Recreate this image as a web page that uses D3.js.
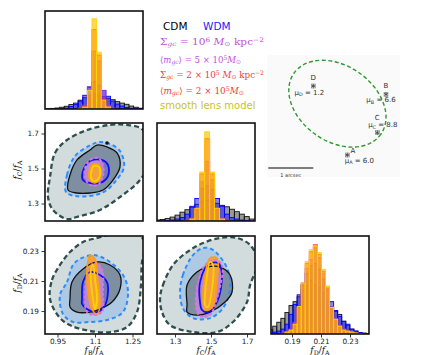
<!DOCTYPE html>
<html><head><meta charset="utf-8">
<script src="https://cdn.jsdelivr.net/npm/d3@7"></script>
<style>body{margin:0;background:#fff}svg{display:block}</style>
</head><body>
<svg id="c" width="429" height="355"></svg>
<script>
// ---------------- DATA ----------------
// tick values / labels
const ticksB = [0.95, 1.1, 1.25], tickLabB = ["0.95", "1.1", "1.25"];
const ticksC = [1.3, 1.5, 1.7], tickLabC = ["1.3", "1.5", "1.7"];
const ticksD = [0.19, 0.21, 0.23], tickLabD = ["0.19", "0.21", "0.23"];

// histogram bins
const binStartB = 0.903, binWidthB = 0.0185;   // f_B/f_A
const binStartC = 1.19, binWidthC = 0.0275;    // f_C/f_A
const binStartD = 0.1739, binWidthD = 0.0028;  // f_D/f_A

// f_B/f_A histograms (relative height)
const cdmB = [0.003,0.006,0.01,0.018,0.028,0.045,0.06,0.09,0.115,0.14,0.155,0.14,0.125,0.11,0.095,0.075,0.06,0.048,0.03,0.018,0.008];
const wdmB = [0,0,0,0.004,0.01,0.025,0.045,0.08,0.14,0.22,0.28,0.24,0.19,0.13,0.08,0.05,0.03,0.015,0.008,0.004,0];
const vioB = [0,0,0,0,0,0,0,0.01,0.04,0.23,0.59,0.49,0.19,0.04,0.01,0,0,0,0,0,0];
const redB = [0,0,0,0,0,0,0,0.005,0.03,0.14,0.81,0.55,0.10,0.02,0,0,0,0,0,0,0];
const smoothB = [0,0,0,0,0,0,0,0.005,0.02,0.19,0.92,0.58,0.09,0.02,0,0,0,0,0,0,0];

// f_C/f_A histograms
const cdmC = [0.01,0.015,0.025,0.04,0.06,0.09,0.115,0.14,0.17,0.20,0.21,0.20,0.18,0.16,0.145,0.12,0.095,0.07,0.045,0.02];
const wdmC = [0,0,0.005,0.01,0.02,0.035,0.07,0.15,0.23,0.33,0.36,0.32,0.23,0.15,0.07,0.035,0.02,0.01,0.005,0];
const vioC = [0,0,0,0,0,0,0.01,0.03,0.10,0.40,0.61,0.42,0.10,0.03,0.01,0,0,0,0,0];
const redC = [0,0,0,0,0,0,0.005,0.02,0.12,0.48,0.84,0.48,0.12,0.02,0.005,0,0,0,0,0];
const smoothC = [0,0,0,0,0,0,0,0.02,0.13,0.50,0.91,0.50,0.13,0.02,0,0,0,0,0,0];

// f_D/f_A histograms
const cdmD = [0.045,0.08,0.12,0.16,0.22,0.29,0.33,0.38,0.45,0.50,0.55,0.50,0.47,0.42,0.33,0.27,0.23,0.20,0.13,0.09,0.05,0.03,0.015,0.01,0.005];
const wdmD = [0.01,0.02,0.03,0.05,0.10,0.20,0.30,0.40,0.50,0.62,0.70,0.72,0.66,0.56,0.45,0.33,0.24,0.18,0.13,0.10,0.05,0.03,0.015,0.005,0];
const vioD = [0,0,0,0.01,0.02,0.05,0.12,0.27,0.52,0.67,0.76,0.88,0.78,0.62,0.46,0.28,0.16,0.09,0.05,0.03,0.02,0.01,0.005,0,0];
const redD = [0,0,0,0,0.02,0.04,0.10,0.26,0.50,0.72,0.84,0.91,0.81,0.64,0.47,0.26,0.14,0.08,0.04,0.03,0.02,0.01,0.005,0,0];
const smoothD = [0,0,0,0,0.02,0.04,0.10,0.28,0.52,0.74,0.86,0.90,0.83,0.66,0.49,0.27,0.15,0.08,0.04,0.03,0.02,0.01,0.005,0,0];

// contours, f_C/f_A vs f_B/f_A
const cbCdm95 = [[0.92,1.451],[0.94,1.589],[0.988,1.663],[1.068,1.72],[1.16,1.749],[1.228,1.749],[1.292,1.72],[1.32,1.549],[1.28,1.434],[1.2,1.337],[1.12,1.263],[1.028,1.223],[0.988,1.211],[0.932,1.263],[0.912,1.337]];
const cbWdm95 = [[0.984,1.366],[0.988,1.463],[1.02,1.571],[1.076,1.629],[1.116,1.651],[1.16,1.64],[1.2,1.6],[1.216,1.509],[1.18,1.423],[1.136,1.366],[1.08,1.343],[1.02,1.343]];
const cbCdm68 = [[0.992,1.377],[1.0,1.463],[1.028,1.549],[1.08,1.606],[1.108,1.634],[1.148,1.623],[1.188,1.589],[1.2,1.509],[1.172,1.434],[1.132,1.377],[1.08,1.36],[1.028,1.36]];
const cbWdm68 = [[1.052,1.486],[1.08,1.543],[1.128,1.549],[1.152,1.52],[1.152,1.457],[1.12,1.417],[1.08,1.417],[1.052,1.434]];
const cbVio95 = [[1.06,1.503],[1.08,1.549],[1.112,1.56],[1.132,1.52],[1.132,1.457],[1.112,1.406],[1.08,1.406],[1.06,1.446]];
const cbSm95 = [[1.076,1.48],[1.088,1.52],[1.108,1.526],[1.124,1.491],[1.12,1.446],[1.1,1.417],[1.08,1.434]];
const cbSm68 = [[1.084,1.469],[1.096,1.514],[1.116,1.509],[1.12,1.463],[1.104,1.429],[1.088,1.434]];
const cbOutliers = [[1.148,1.646]];

// contours, f_D/f_A vs f_B/f_A
const dbCdm95 = [[0.92,0.198],[0.928,0.2107],[0.96,0.2207],[1.0,0.2293],[1.052,0.236],[1.108,0.2387],[1.16,0.241],[1.26,0.2427],[1.304,0.234],[1.288,0.2227],[1.284,0.2073],[1.268,0.1893],[1.228,0.1793],[1.16,0.176],[1.08,0.1767],[1.008,0.18],[0.96,0.1853]];
const dbWdm95 = [[0.96,0.2007],[0.988,0.2093],[1.012,0.2207],[1.04,0.2247],[1.092,0.2273],[1.148,0.224],[1.212,0.214],[1.232,0.2027],[1.212,0.1893],[1.148,0.184],[1.08,0.1827],[1.012,0.1827],[0.972,0.188]];
const dbCdm68 = [[1.0,0.198],[1.008,0.2093],[1.052,0.218],[1.108,0.2227],[1.16,0.2207],[1.2,0.214],[1.2,0.2047],[1.168,0.196],[1.12,0.1913],[1.08,0.1893],[1.028,0.1893],[1.0,0.1927]];
const dbWdm68 = [[1.048,0.198],[1.052,0.2093],[1.08,0.216],[1.12,0.214],[1.148,0.2093],[1.152,0.2027],[1.14,0.194],[1.108,0.1893],[1.068,0.1913],[1.048,0.1947]];
const dbVio95 = [[1.06,0.194],[1.068,0.214],[1.1,0.2227],[1.128,0.218],[1.132,0.2027],[1.128,0.1893],[1.092,0.1873],[1.068,0.1893]];
const dbSm95 = [[1.08,0.2273],[1.1,0.2247],[1.112,0.2093],[1.12,0.194],[1.108,0.188],[1.088,0.1913],[1.072,0.2027],[1.068,0.218]];
const dbSm68 = [[1.092,0.2207],[1.1,0.2113],[1.108,0.198],[1.1,0.1913],[1.092,0.198],[1.084,0.2093],[1.084,0.218]];

// contours, f_D/f_A vs f_C/f_A
const dcCdm95 = [[1.217,0.1987],[1.233,0.2073],[1.289,0.2207],[1.367,0.2293],[1.456,0.2353],[1.55,0.2387],[1.644,0.2387],[1.717,0.234],[1.761,0.2227],[1.717,0.2073],[1.7,0.196],[1.622,0.1827],[1.533,0.176],[1.4,0.176],[1.272,0.1807],[1.228,0.1893]];
const dcWdm95 = [[1.328,0.2027],[1.344,0.214],[1.4,0.2273],[1.456,0.232],[1.511,0.2307],[1.589,0.2187],[1.606,0.2053],[1.567,0.192],[1.494,0.1853],[1.4,0.1853],[1.344,0.192]];
const dcCdm68 = [[1.367,0.194],[1.367,0.2073],[1.422,0.216],[1.478,0.2193],[1.55,0.2193],[1.606,0.214],[1.617,0.2027],[1.578,0.196],[1.494,0.1893],[1.422,0.1873],[1.367,0.1893]];
const dcWdm68 = [[1.439,0.196],[1.439,0.2093],[1.483,0.2207],[1.539,0.222],[1.561,0.214],[1.533,0.196],[1.483,0.1893],[1.45,0.1907]];
const dcVio95 = [[1.422,0.1893],[1.422,0.2053],[1.467,0.2207],[1.522,0.224],[1.561,0.2207],[1.539,0.2007],[1.494,0.1873],[1.45,0.186]];
const dcSm95 = [[1.456,0.196],[1.467,0.214],[1.494,0.2253],[1.533,0.2253],[1.533,0.2093],[1.506,0.192],[1.467,0.1907]];
const dcSm68 = [[1.467,0.2007],[1.478,0.214],[1.494,0.2227],[1.511,0.2207],[1.506,0.2053],[1.483,0.1927],[1.467,0.194]];

// lens image inset (arcsec, relative to lens centre)
const lensNames = ["A", "B", "C", "D"];
const lensX = [0.22, 1.08, 0.887, -0.536];
const lensY = [-1.14, 0.209, -0.644, 0.393];
const lensMu = ["6.0", "6.6", "8.8", "1.2"];
const critA = 1.18, critB = 0.84, critAngle = -35;
const scaleBarArcsec = 1;

// ---------------- DRAW ----------------
const svg = d3.select('#c');
const S = 98;
const defs = svg.append('defs');

const xB = d3.scaleLinear().domain([0.9, 1.292]).range([45, 143]);
const xC = d3.scaleLinear().domain([1.2, 1.7444]).range([157, 255]);
const xD = d3.scaleLinear().domain([0.1755, 0.2431]).range([271, 369]);
const yC = d3.scaleLinear().domain([1.2, 1.76]).range([221, 123]);
const yD = d3.scaleLinear().domain([0.1747, 0.24]).range([334, 236]);

function clip(id, x, y) {
  defs.append('clipPath').attr('id', id).append('rect').attr('x', x).attr('y', y).attr('width', S).attr('height', S);
  return svg.append('g').attr('clip-path', `url(#${id})`);
}

const histStyles = [
  {fill:'#6e6e6e', op:0.7, stroke:'#111'},
  {fill:'#1f1fff', op:0.55, stroke:'#0000ff'},
  {fill:'#a23de0', op:0.55, stroke:'#a23de0'},
  {fill:'#ff2a2a', op:0.5, stroke:'#ff2a2a'},
  {fill:'#ffc200', op:0.65, stroke:'#ffd400'}
];
function hist(id, px, py, xs, start, w, series) {
  const g = clip(id, px, py);
  const ys = d3.scaleLinear().domain([0, 1]).range([py + S, py]);
  series.forEach((vals, k) => {
    const st = histStyles[k];
    g.append('g').selectAll('rect').data(vals.map((v, i) => ({v, i})).filter(d => d.v > 0))
      .join('rect')
      .attr('x', d => xs(start + d.i * w))
      .attr('width', d => xs(start + (d.i + 1) * w) - xs(start + d.i * w))
      .attr('y', d => ys(d.v))
      .attr('height', d => ys(0) - ys(d.v))
      .attr('fill', st.fill).attr('fill-opacity', st.op)
      .attr('stroke', st.stroke).attr('stroke-width', 0.9);
  });
}

const cStyles = {
  cdm95: {fill:'#d3dcdc', stroke:'#2f4f4f', w:2.3, dash:'5,3'},
  wdm95: {fill:'#adc9e3', stroke:'#2b8cff', w:2, dash:'4,3'},
  cdm68: {fill:'#7f8fa2', stroke:'#111', w:1.3},
  wdm68: {fill:'#6f78b8', stroke:'#1010ee', w:1.8},
  vio95: {fill:'#b68bcc', stroke:'#e070ec', w:1.8, dash:'3,2'},
  sm95:  {fill:'#f4a13a', stroke:'#ff9d10', w:1.5},
  sm68:  {fill:null, stroke:'#ffd000', w:1.8}
};
function contours(id, px, py, xs, ys, sets, outliers) {
  const g = clip(id, px, py);
  const line = d3.line().x(d => xs(d[0])).y(d => ys(d[1])).curve(d3.curveCatmullRomClosed.alpha(0.5));
  sets.forEach(([pts, key]) => { const s = cStyles[key]; if (s.fill) g.append('path').attr('d', line(pts)).attr('fill', s.fill); });
  sets.forEach(([pts, key]) => {
    const s = cStyles[key];
    g.append('path').attr('d', line(pts)).attr('fill', 'none').attr('stroke', s.stroke)
      .attr('stroke-width', s.w).attr('stroke-dasharray', s.dash || null).attr('stroke-linejoin', 'round');
  });
  if (outliers) g.selectAll('circle.o').data(outliers).join('circle').attr('cx', d => xs(d[0])).attr('cy', d => ys(d[1])).attr('r', 1.8).attr('fill', '#111');
}

// diagonal histograms
hist('h1', 45, 11, xB, binStartB, binWidthB, [cdmB, wdmB, vioB, redB, smoothB]);
hist('h2', 157, 123, xC, binStartC, binWidthC, [cdmC, wdmC, vioC, redC, smoothC]);
hist('h3', 271, 236, xD, binStartD, binWidthD, [cdmD, wdmD, vioD, redD, smoothD]);

// 2D panels
contours('p1', 45, 123, xB, yC, [[cbCdm95,'cdm95'],[cbWdm95,'wdm95'],[cbCdm68,'cdm68'],[cbWdm68,'wdm68'],[cbVio95,'vio95'],[cbSm95,'sm95'],[cbSm68,'sm68']], cbOutliers);
contours('p2', 45, 236, xB, yD, [[dbCdm95,'cdm95'],[dbWdm95,'wdm95'],[dbCdm68,'cdm68'],[dbWdm68,'wdm68'],[dbVio95,'vio95'],[dbSm95,'sm95'],[dbSm68,'sm68']]);
contours('p3', 157, 236, xC, yD, [[dcCdm95,'cdm95'],[dcWdm95,'wdm95'],[dcCdm68,'cdm68'],[dcWdm68,'wdm68'],[dcVio95,'vio95'],[dcSm95,'sm95'],[dcSm68,'sm68']]);

// frames
[[45,11],[45,123],[157,123],[45,236],[157,236],[271,236]].forEach(([x, y]) =>
  svg.append('rect').attr('x', x).attr('y', y).attr('width', S).attr('height', S)
    .attr('fill', 'none').attr('stroke', '#111').attr('stroke-width', 1.6));

// axes
function styleAxis(g) {
  g.select('.domain').remove();
  g.selectAll('.tick line').attr('stroke', '#222').attr('stroke-width', 0.9);
  g.selectAll('.tick text').attr('font-family', 'DejaVu Sans').attr('font-size', 7.3).attr('fill', '#222');
}
const fmt = (vals, labs) => d => labs[vals.indexOf(d)];
svg.append('g').attr('transform', 'translate(0,334)').call(d3.axisBottom(xB).tickValues(ticksB).tickFormat(fmt(ticksB, tickLabB)).tickSize(3.5).tickPadding(1.8)).call(styleAxis);
svg.append('g').attr('transform', 'translate(0,334)').call(d3.axisBottom(xC).tickValues(ticksC).tickFormat(fmt(ticksC, tickLabC)).tickSize(3.5).tickPadding(1.8)).call(styleAxis);
svg.append('g').attr('transform', 'translate(0,334)').call(d3.axisBottom(xD).tickValues(ticksD).tickFormat(fmt(ticksD, tickLabD)).tickSize(3.5).tickPadding(1.8)).call(styleAxis);
svg.append('g').attr('transform', 'translate(45,0)').call(d3.axisLeft(yC).tickValues(ticksC).tickFormat(fmt(ticksC, tickLabC)).tickSize(3.5).tickPadding(2.5)).call(styleAxis);
svg.append('g').attr('transform', 'translate(45,0)').call(d3.axisLeft(yD).tickValues(ticksD).tickFormat(fmt(ticksD, tickLabD)).tickSize(3.5).tickPadding(2.5)).call(styleAxis);

// math text helper
function mathText(parent, x, y, runs, o) {
  const fs = o.fs;
  const t = parent.append('text').attr('x', x).attr('y', y).attr('font-family', o.family)
    .attr('font-size', fs).attr('fill', o.color).attr('text-anchor', o.anchor || 'start');
  if (o.transform) t.attr('transform', o.transform);
  if (o.len) t.attr('textLength', o.len).attr('lengthAdjust', 'spacingAndGlyphs');
  const subK = o.sub == null ? 0.28 : o.sub;
  const supK = o.sup == null ? 0.4 : o.sup;
  let off = 0;
  runs.forEach(r => {
    const target = r.s === 'sub' ? subK * fs : r.s === 'sup' ? -supK * fs : 0;
    const ts = t.append('tspan').text(r.t);
    if (target - off !== 0) ts.attr('dy', target - off);
    if (r.s) ts.attr('font-size', 0.7 * fs);
    if (r.i) ts.attr('font-style', 'italic');
    if (r.f) ts.attr('font-family', r.f);
    off = target;
  });
  return t;
}

// axis labels
const ratio = k => [{t:'f', i:1}, {t:k, s:'sub'}, {t:'/'}, {t:'f', i:1}, {t:'A', s:'sub'}];
const labOpt = {fs:9, family:'DejaVu Serif', color:'#111', anchor:'middle', sub:0.18};
mathText(svg, 94, 353, ratio('B'), labOpt);
mathText(svg, 206, 353, ratio('C'), labOpt);
mathText(svg, 320, 353, ratio('D'), labOpt);
mathText(svg, 0, 0, ratio('C'), Object.assign({}, labOpt, {transform:'translate(20,170) rotate(-90)'}));
mathText(svg, 0, 0, ratio('D'), Object.assign({}, labOpt, {transform:'translate(20,283) rotate(-90)'}));

// legend
svg.append('text').attr('x', 163).attr('y', 30).attr('font-family', 'DejaVu Sans').attr('font-size', 10.5).attr('fill', '#000').text('CDM');
svg.append('text').attr('x', 203).attr('y', 30).attr('font-family', 'DejaVu Sans').attr('font-size', 10.5).attr('fill', '#1a1aff').text('WDM');
const legOpt = (c, len) => ({fs:8.8, family:'DejaVu Serif', color:c, len, sub:0.15, sup:0.3});
const vcol = '#c24fda', rcol = '#f03a3a';
const DS = 'DejaVu Sans';
mathText(svg, 160, 44.5, [{t:'Σ'},{t:'gc',s:'sub',i:1},{t:' = 10'},{t:'6',s:'sup'},{t:' '},{t:'M',i:1},{t:'⊙',s:'sub',f:DS},{t:' kpc'},{t:'−2',s:'sup'}], legOpt(vcol, 104));
mathText(svg, 160, 62.5, [{t:'⟨',f:DS},{t:'m',i:1},{t:'gc',s:'sub',i:1},{t:'⟩',f:DS},{t:' = 5 × 10'},{t:'5',s:'sup'},{t:'M',i:1},{t:'⊙',s:'sub',f:DS}], legOpt(vcol, 81));
mathText(svg, 160, 78, [{t:'Σ'},{t:'gc',s:'sub',i:1},{t:' = 2 × 10'},{t:'5',s:'sup'},{t:' '},{t:'M',i:1},{t:'⊙',s:'sub',f:DS},{t:' kpc'},{t:'−2',s:'sup'}], legOpt(rcol, 104));
mathText(svg, 160, 93.5, [{t:'⟨',f:DS},{t:'m',i:1},{t:'gc',s:'sub',i:1},{t:'⟩',f:DS},{t:' = 2 × 10'},{t:'5',s:'sup'},{t:'M',i:1},{t:'⊙',s:'sub',f:DS}], legOpt(rcol, 84));
svg.append('text').attr('x', 160).attr('y', 108.5).attr('font-family', 'DejaVu Sans').attr('font-size', 10).attr('fill', '#c8c31e').text('smooth lens model');

// lens inset
const lx = d3.scaleLinear().domain([-1, 1]).range([337.4 - 45, 337.4 + 45]);
const ly = d3.scaleLinear().domain([-1, 1]).range([103.7 + 45, 103.7 - 45]);
const lensG = svg.append('g');
lensG.append('rect').attr('x', 267).attr('y', 55).attr('width', 133).attr('height', 122).attr('fill', '#fafafa');
lensG.append('ellipse').attr('cx', lx(0)).attr('cy', ly(0))
  .attr('rx', lx(critA) - lx(0)).attr('ry', lx(critB) - lx(0))
  .attr('transform', `rotate(${-critAngle} ${lx(0)} ${ly(0)})`)
  .attr('fill', 'none').attr('stroke', '#2e9a2e').attr('stroke-width', 1.4).attr('stroke-dasharray', '4,2.5');
const sym = d3.symbol().type(d3.symbolAsterisk).size(14);
lensNames.forEach((n, i) => {
  const cx = lx(lensX[i]), cy = ly(lensY[i]);
  lensG.append('path').attr('d', sym()).attr('transform', `translate(${cx},${cy})`).attr('stroke', '#444').attr('stroke-width', 0.9).attr('fill', 'none');
  lensG.append('rect').attr('x', cx - 2).attr('y', cy - 2).attr('width', 4).attr('height', 4).attr('fill', 'none').attr('stroke', '#777').attr('stroke-width', 0.5);
});
const lblOff = {A:[[5.5,-2],[12,7.5]], B:[[0,-6],[-5,8]], C:[[0,-13],[5.5,-5.5]], D:[[0,-6],[-4,8.5]]};
const lo = {fs:7, family:'DejaVu Sans', color:'#333', anchor:'middle'};
lensNames.forEach((n, i) => {
  const cx = lx(lensX[i]), cy = ly(lensY[i]);
  const [l1, l2] = lblOff[n];
  lensG.append('text').attr('x', cx + l1[0]).attr('y', cy + l1[1]).attr('font-family', 'DejaVu Sans').attr('font-size', 7).attr('fill', '#333').attr('text-anchor', 'middle').text(n);
  mathText(lensG, cx + l2[0], cy + l2[1], [{t:'μ'},{t:n, s:'sub'},{t:' = ' + lensMu[i]}], lo);
});
lensG.append('line').attr('x1', 268.3).attr('x2', 268.3 + (lx(scaleBarArcsec) - lx(0))).attr('y1', 168).attr('y2', 168).attr('stroke', '#555').attr('stroke-width', 1.5);
lensG.append('text').attr('x', 268.3 + (lx(scaleBarArcsec) - lx(0)) / 2).attr('y', 176.5).attr('text-anchor', 'middle').attr('font-family', 'DejaVu Sans').attr('font-size', 5).attr('fill', '#333').text('1 arcsec');
</script>
</body></html>
